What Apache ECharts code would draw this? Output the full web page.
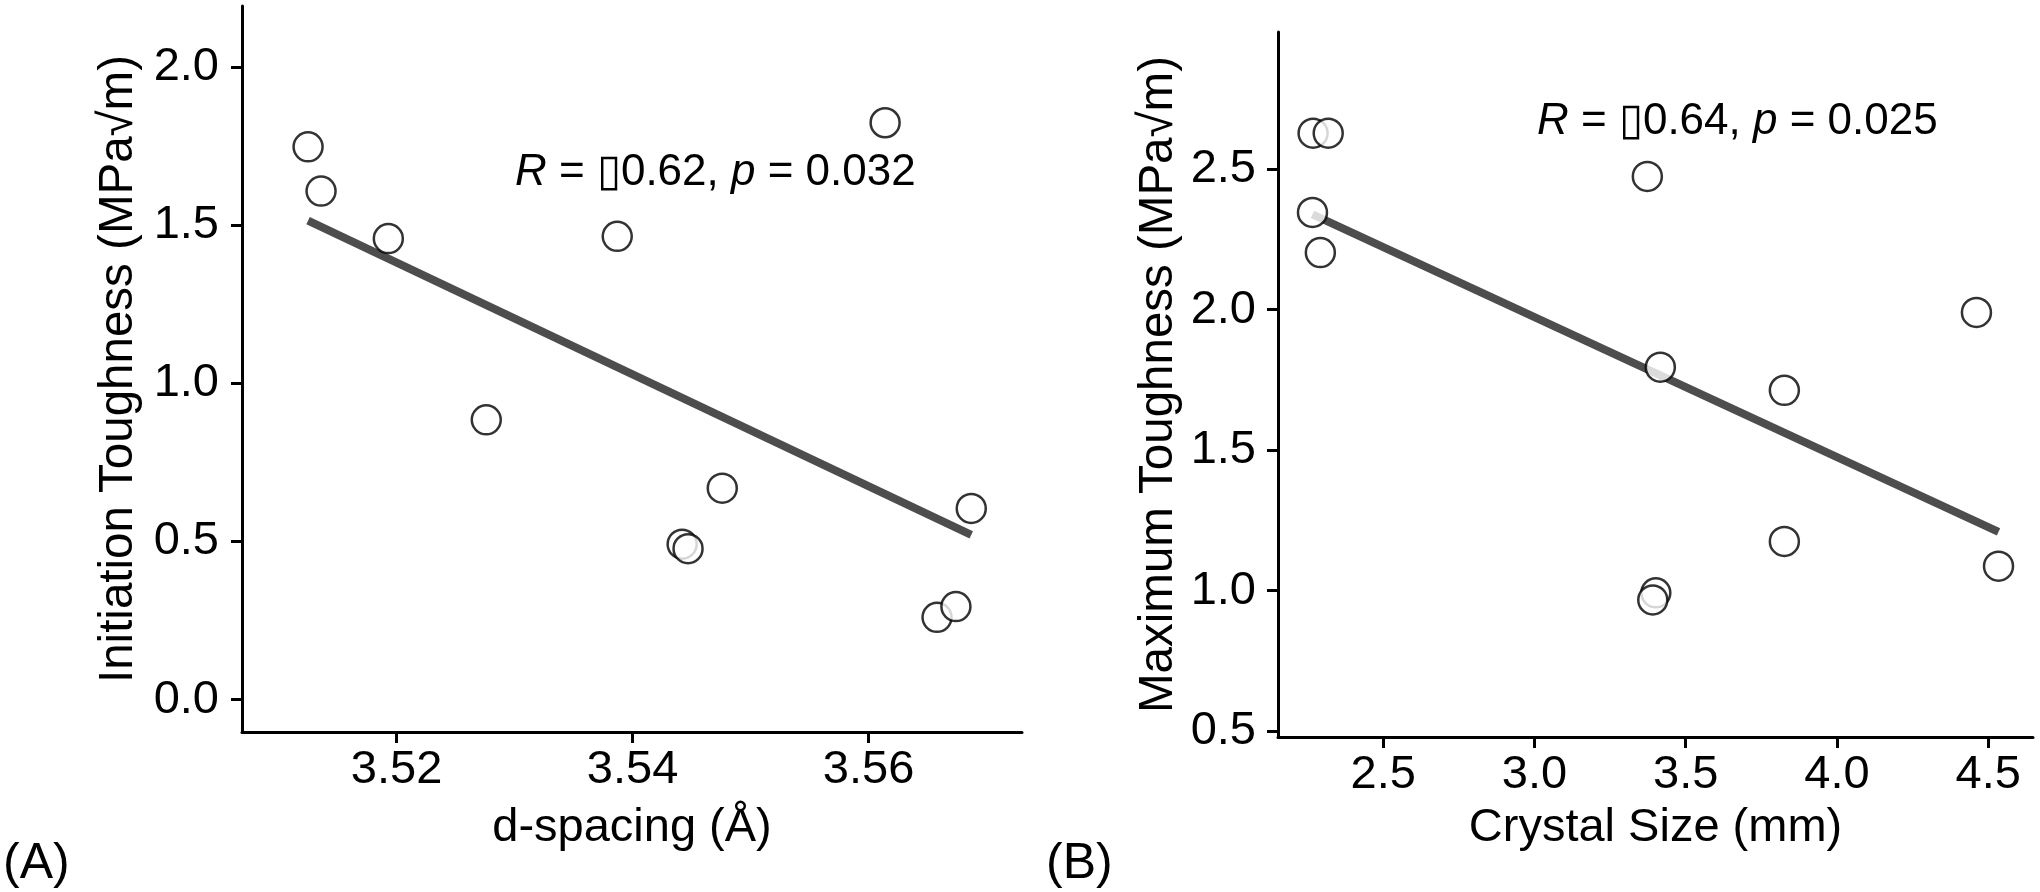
<!DOCTYPE html>
<html>
<head>
<meta charset="utf-8">
<script src="https://cdn.jsdelivr.net/npm/echarts@6/dist/echarts.min.js"></script>
<style>
html,body{margin:0;padding:0;background:#fff;}
#chart{width:2040px;height:892px;}
</style>
</head>
<body>
<div id="chart"></div>
<script>
// Panel A data
const dSpacing = [3.5125, 3.5136, 3.5193, 3.5276, 3.5387, 3.5442, 3.5447, 3.5476, 3.5614, 3.5658, 3.5674, 3.5687];
const initiationToughness = [1.747, 1.607, 1.457, 0.884, 1.464, 0.491, 0.477, 0.668, 1.823, 0.260, 0.294, 0.604];
// Panel B data
const crystalSize = [2.268, 2.318, 2.266, 2.292, 3.373, 3.416, 3.401, 3.391, 3.826, 3.826, 4.461, 4.534];
const maximumToughness = [2.628, 2.628, 2.346, 2.203, 2.474, 1.795, 0.992, 0.967, 1.713, 1.175, 1.990, 1.087];
// Tick labels
const ticksAx = [3.52, 3.54, 3.56];
const ticksAy = [0.0, 0.5, 1.0, 1.5, 2.0];
const ticksBx = [2.5, 3.0, 3.5, 4.0, 4.5];
const ticksBy = [0.5, 1.0, 1.5, 2.0, 2.5];
// Texts
const titleAx = 'd-spacing (Å)';
const titleAy = 'Initiation Toughness (MPa√m)';
const titleBx = 'Crystal Size (mm)';
const titleBy = 'Maximum Toughness (MPa√m)';
const statA = ['R', ' = ▯0.62, ', 'p', ' = 0.032'];
const statB = ['R', ' = ▯0.64, ', 'p', ' = 0.025'];
const panelA = '(A)';
const panelB = '(B)';

function fitLine(xs, ys) {
  const n = xs.length;
  const mx = xs.reduce((a, b) => a + b, 0) / n;
  const my = ys.reduce((a, b) => a + b, 0) / n;
  let sxy = 0, sxx = 0;
  for (let i = 0; i < n; i++) { sxy += (xs[i] - mx) * (ys[i] - my); sxx += (xs[i] - mx) ** 2; }
  const b = sxy / sxx, a = my - b * mx;
  const x0 = Math.min(...xs), x1 = Math.max(...xs);
  return [[x0, a + b * x0], [x1, a + b * x1]];
}

const FONT = '"Liberation Sans", Arial, Helvetica, sans-serif';
const axisLineStyle = { show: true, onZero: false, lineStyle: { color: '#000', width: 3 } };

function xAxis(idx, min, max, ticks, dec, name, gap) {
  return {
    type: 'value', gridIndex: idx, min: min, max: max,
    name: name, nameLocation: 'middle', nameGap: gap,
    nameTextStyle: { fontFamily: FONT, fontSize: 47, color: '#000' },
    axisLine: axisLineStyle,
    axisTick: { show: true, length: 11, lineStyle: { color: '#000', width: 3 }, customValues: ticks },
    axisLabel: { show: true, customValues: ticks, margin: 15, fontFamily: FONT, fontSize: 47, color: '#000',
      formatter: v => Number(v).toFixed(dec) },
    splitLine: { show: false }
  };
}
function yAxis(idx, min, max, ticks, dec, name, gap, margin) {
  return {
    type: 'value', gridIndex: idx, min: min, max: max,
    name: name, nameLocation: 'middle', nameGap: gap, nameRotate: 90,
    nameTextStyle: { fontFamily: FONT, fontSize: 47.5, color: '#000' },
    axisLine: axisLineStyle,
    axisTick: { show: true, length: 11, lineStyle: { color: '#000', width: 3 }, customValues: ticks },
    axisLabel: { show: true, customValues: ticks, margin: margin, fontFamily: FONT, fontSize: 47, color: '#000',
      formatter: v => Number(v).toFixed(dec) },
    splitLine: { show: false }
  };
}

function pts(xs, ys) { return xs.map((x, i) => [x, ys[i]]); }

const pointStyle = { color: '#fff', borderColor: '#000', borderWidth: 2.5 };

function statText(x, y, parts) {
  return {
    type: 'text', x: x, y: y, z: 100,
    style: {
      text: '{i|' + parts[0] + '}{n|' + parts[1] + '}{i|' + parts[2] + '}{n|' + parts[3] + '}',
      fill: '#000', align: 'left', verticalAlign: 'middle',
      rich: {
        i: { fontFamily: FONT, fontSize: 44, fontStyle: 'italic', fill: '#000' },
        n: { fontFamily: FONT, fontSize: 44, fill: '#000' }
      }
    }
  };
}
function panelText(x, y, t) {
  return { type: 'text', x: x, y: y, style: { text: t, fontFamily: FONT, fontSize: 50, fill: '#000', align: 'left', verticalAlign: 'middle' } };
}

const chart = echarts.init(document.getElementById('chart'), null, { renderer: 'canvas' });
chart.setOption({
  backgroundColor: '#fff',
  animation: false,
  grid: [
    { left: 242, top: 6, width: 780, height: 726 },
    { left: 1278, top: 32, width: 755, height: 705 }
  ],
  xAxis: [
    xAxis(0, 3.5069, 3.5730, ticksAx, 2, titleAx, 73),
    xAxis(1, 2.152, 4.648, ticksBx, 1, titleBx, 68)
  ],
  yAxis: [
    yAxis(0, -0.1025, 2.192, ticksAy, 1, titleAy, 99, 23),
    yAxis(1, 0.479, 2.988, ticksBy, 1, titleBy, 95, 22)
  ],
  series: [
    { type: 'line', xAxisIndex: 0, yAxisIndex: 0, data: fitLine(dSpacing, initiationToughness), symbol: 'none',
      lineStyle: { color: '#4d4d4d', width: 8, cap: 'butt' }, z: 2 },
    { type: 'scatter', xAxisIndex: 0, yAxisIndex: 0, data: pts(dSpacing, initiationToughness), symbol: 'circle', symbolSize: 29,
      itemStyle: pointStyle, z: 3 },
    { type: 'line', xAxisIndex: 1, yAxisIndex: 1, data: fitLine(crystalSize, maximumToughness), symbol: 'none',
      lineStyle: { color: '#4d4d4d', width: 8, cap: 'butt' }, z: 2 },
    { type: 'scatter', xAxisIndex: 1, yAxisIndex: 1, data: pts(crystalSize, maximumToughness), symbol: 'circle', symbolSize: 29,
      itemStyle: pointStyle, z: 3 }
  ],
  graphic: [
    statText(515, 173, statA),
    statText(1537, 122, statB),
    panelText(3, 864, panelA),
    panelText(1046, 864, panelB)
  ]
});
</script>
</body>
</html>
